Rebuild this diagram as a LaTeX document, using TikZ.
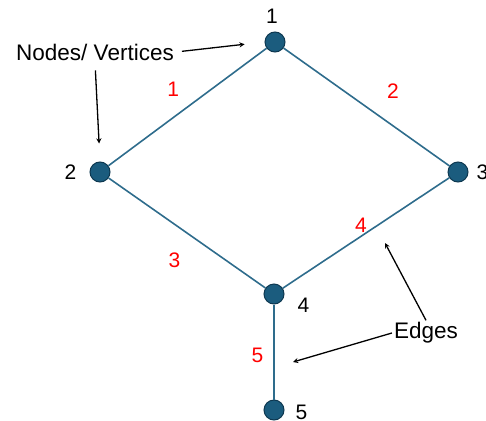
\documentclass[tikz,border=0pt]{standalone}
\usepackage{fontspec}
\setmainfont{Liberation Sans}
\usetikzlibrary{positioning, arrows}
\definecolor{nodeblue}{HTML}{1B5C7E}
\definecolor{nodeline}{HTML}{0E3850}
\definecolor{linkblue}{HTML}{2E6C8C}
\tikzstyle{vertex} = [circle, fill=nodeblue, draw=nodeline, line width=1pt, minimum size=20pt, inner sep=0pt]
\tikzstyle{link} = [linkblue, line width=1.6pt]
\tikzstyle{vlbl} = [inner sep=0pt, font=\fontsize{21}{25}\selectfont]
\tikzstyle{elbl} = [vlbl, text=red]
\tikzstyle{note} = [inner sep=2pt, font=\fontsize{22.5}{27}\selectfont]
\tikzstyle{arrow} = [line width=1.3pt,->,>=stealth]

\begin{document}
\begin{tikzpicture}[x=1pt, y=-1pt]
    \useasboundingbox (0,0) rectangle (486,420);
    % the graph
    \node (v1) [vertex] at (275,42) {};
    \node (v2) [vertex] at (100,172) {};
    \node (v3) [vertex] at (458,172) {};
    \node (v4) [vertex] at (274,294) {};
    \node (v5) [vertex] at (274,410) {};
    \draw [link] (v2) -- node[elbl, pos=0.41, above=20pt] {1} (v1);
    \draw [link] (v1) -- node[elbl, pos=0.66, above=27pt] {2} (v3);
    \draw [link] (v2) -- node[elbl, pos=0.42, below=28pt] {3} (v4);
    \draw [link] (v4) -- node[elbl, pos=0.47, above=3pt] {4} (v3);
    \draw [link] (v4) -- node[elbl, pos=0.54, left=10pt] {5} (v5);
    % vertex numbers
    \node (n1) [vlbl, above=8pt of v1, xshift=-3pt] {1};
    \node (n2) [vlbl, left=13pt of v2] {2};
    \node (n3) [vlbl, right=8pt of v3] {3};
    \node (n4) [vlbl, right=13pt of v4, yshift=-11pt] {4};
    \node (n5) [vlbl, right=11pt of v5, yshift=-2pt] {5};
    % callouts
    \node (nv) [note] at (95,52) {Nodes/ Vertices};
    \node (edg) [note] at (426,333) {Edges};
    \coordinate (e4) at (385,243);
    \coordinate (e5) at (293,362);
    \draw [arrow, shorten <=6pt, shorten >=20pt] (nv.east) -- (v1.west);
    \draw [arrow, shorten <=8pt, shorten >=18pt] (nv.south) -- (v2.north);
    \draw [arrow] (edg.north) -- (e4);
    \draw [arrow] (edg.west) -- (e5);
\end{tikzpicture}
\end{document}
